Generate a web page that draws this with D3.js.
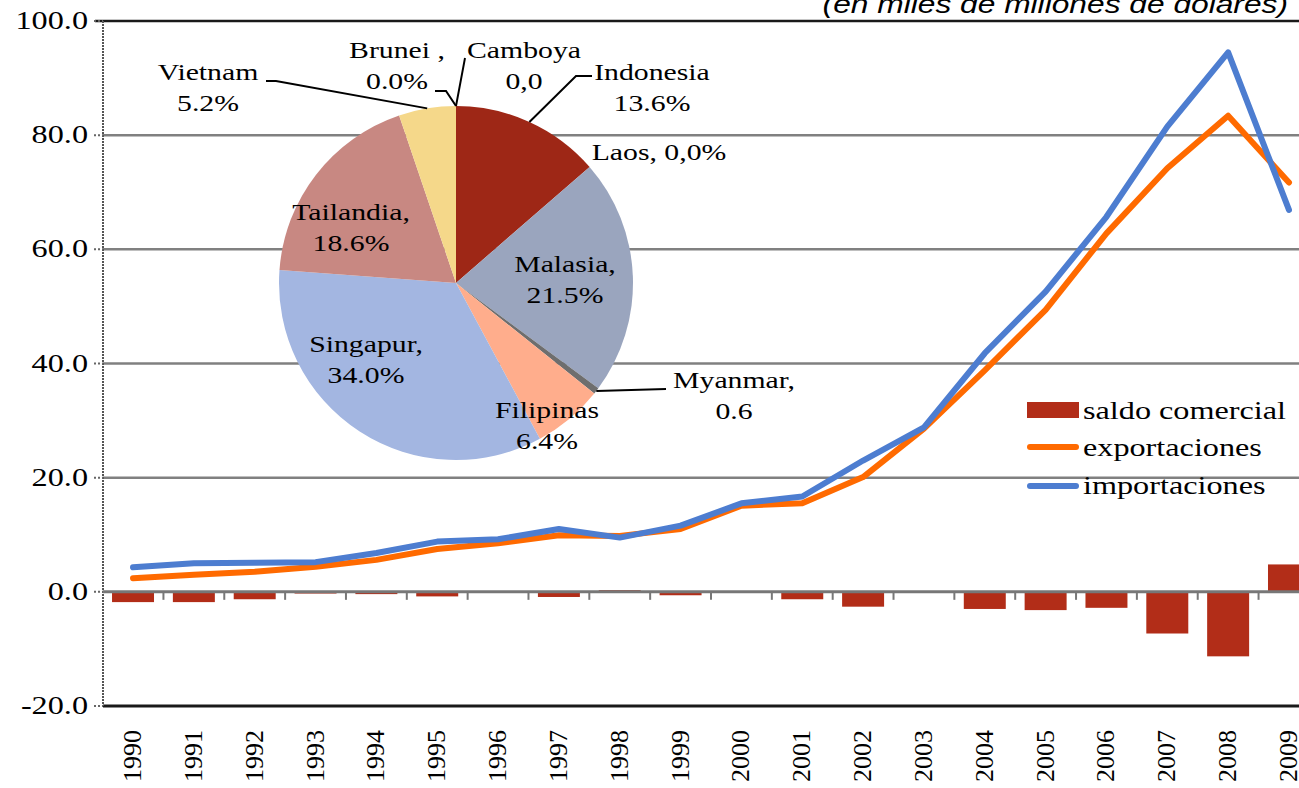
<!DOCTYPE html>
<html><head><meta charset="utf-8">
<script src="https://cdn.jsdelivr.net/npm/d3@7"></script>
<style>
html,body{margin:0;padding:0;background:#fff;overflow:hidden;}
svg{display:block;}
text{font-family:"Liberation Serif","Times New Roman",serif;fill:#000;}
</style></head>
<body>
<svg id="c" width="1299" height="788"></svg>
<script>
// ---- data ----
const years = ["1990","1991","1992","1993","1994","1995","1996","1997","1998","1999","2000","2001","2002","2003","2004","2005","2006","2007","2008","2009"];
const exportaciones = [2.4,3.0,3.5,4.4,5.6,7.5,8.5,9.9,9.8,11.0,15.1,15.5,20.1,28.6,38.8,49.4,62.8,74.2,83.4,71.7];
const importaciones = [4.3,5.0,5.1,5.2,6.8,8.8,9.2,11.0,9.5,11.6,15.5,16.7,23.0,28.8,41.8,52.6,65.7,81.5,94.5,66.9];
const saldoComercial = [-1.8,-1.8,-1.3,-0.3,-0.4,-0.8,-0.1,-0.9,0.3,-0.6,-0.1,-1.3,-2.6,-0.2,-3.0,-3.2,-2.8,-7.3,-11.3,4.8];
const yTicks = [-20,0,20,40,60,80,100];
const yTickLabels = ["-20.0","0.0","20.0","40.0","60.0","80.0","100.0"];
const seriesNames = ["saldo comercial","exportaciones","importaciones"];

const paises = ["Brunei","Camboya","Indonesia","Laos","Malasia","Myanmar","Filipinas","Singapur","Tailandia","Vietnam"];
const participacion = [0,0,13.6,0,21.5,0.6,6.4,34.0,18.6,5.2];
const pieLabels = [["Brunei ,","0.0%"],["Camboya","0,0"],["Indonesia","13.6%"],["Laos, 0,0%"],["Malasia,","21.5%"],["Myanmar,","0.6"],["Filipinas","6.4%"],["Singapur,","34.0%"],["Tailandia,","18.6%"],["Vietnam","5.2%"]];
const pieColors = ["#4F81BD","#C0504D","#9E2716","#8064A2","#9AA5BE","#6E6E6E","#FFAD8C","#A3B6E1","#C88882","#F5D88A"];
const titleText = "(en miles de millones de dólares)";

// ---- layout ----
const SX = 1.24; // horizontal stretch of the original picture
const svg = d3.select("#c");
const plotLeft = 103, plotRight = 1299;
const x = d3.scaleBand().domain(years).range([102.6, 1319.4]).paddingInner(0.31).paddingOuter(0.155);
const y = d3.scaleLinear().domain([-20,100]).range([706,21]);
const step = x.step();

function txt(g, px, py, str, size, anchor){
  return g.append("text").attr("transform",`translate(${px},${py}) scale(${SX},1)`)
    .attr("text-anchor",anchor||"start").style("font-size",size+"px").text(str);
}

// title (cut at top, as in the original)
svg.append("text").attr("transform","translate(1288,13) scale(1.22,1)")
  .attr("text-anchor","end").style("font-family","'Liberation Sans',Arial,sans-serif")
  .style("font-style","italic").style("font-size","26px").text(titleText);

// gridlines
const gridVals = [20,40,60,80];
svg.append("g").selectAll("line").data(gridVals).join("line")
  .attr("x1",plotLeft).attr("x2",plotRight).attr("y1",d=>y(d)).attr("y2",d=>y(d))
  .attr("stroke","#808080").attr("stroke-width",2.5);
svg.append("line").attr("x1",95).attr("x2",plotRight).attr("y1",y(100)).attr("y2",y(100))
  .attr("stroke","#1a1a1a").attr("stroke-width",2.5);
svg.append("line").attr("x1",plotLeft).attr("x2",plotRight).attr("y1",y(-20)).attr("y2",y(-20))
  .attr("stroke","#1a1a1a").attr("stroke-width",3);

// y axis
const yAxis = svg.append("g");
yAxis.append("line").attr("x1",plotLeft).attr("x2",plotLeft).attr("y1",y(100)).attr("y2",y(-20))
  .attr("stroke","#555").attr("stroke-width",2).attr("stroke-dasharray","2,1");
yAxis.selectAll("line.t").data(yTicks).join("line").attr("class","t")
  .attr("x1",94).attr("x2",plotLeft).attr("y1",d=>y(d)).attr("y2",d=>y(d))
  .attr("stroke","#666").attr("stroke-width",2).attr("stroke-dasharray","2,2");
yTicks.forEach((v,i)=>txt(yAxis, 88, y(v)+8, yTickLabels[i], 26, "end"));

// bars
svg.append("g").selectAll("rect").data(years).join("rect")
  .attr("x",d=>x(d)).attr("width",x.bandwidth())
  .attr("y",(d,i)=>y(Math.max(0,saldoComercial[i])))
  .attr("height",(d,i)=>Math.abs(y(saldoComercial[i])-y(0)))
  .attr("fill","#B22D18");

// zero line + category ticks
svg.append("line").attr("x1",plotLeft).attr("x2",plotRight).attr("y1",y(0)).attr("y2",y(0))
  .attr("stroke","#777").attr("stroke-width",3);
svg.append("g").selectAll("line").data(years.slice(1)).join("line")
  .attr("x1",d=>x(d)-x.paddingInner()*step/2).attr("x2",d=>x(d)-x.paddingInner()*step/2)
  .attr("y1",y(0)).attr("y2",y(0)+8).attr("stroke","#777").attr("stroke-width",2);

// x labels (rotated)
svg.append("g").selectAll("text").data(years).join("text")
  .attr("transform",d=>`translate(${x(d)+x.bandwidth()/2+8},782) rotate(-90)`)
  .attr("text-anchor","start").style("font-size","26px").text(d=>d);

// lines
const line = d3.line().x((d,i)=>x(years[i])+x.bandwidth()/2).y(d=>y(d));
svg.append("path").datum(exportaciones).attr("d",line).attr("fill","none")
  .attr("stroke","#FF6A00").attr("stroke-width",6).attr("stroke-linecap","round").attr("stroke-linejoin","round");
svg.append("path").datum(importaciones).attr("d",line).attr("fill","none")
  .attr("stroke","#4D7DD0").attr("stroke-width",6).attr("stroke-linecap","round").attr("stroke-linejoin","round");

// legend
const lg = svg.append("g");
lg.append("rect").attr("x",1027).attr("y",402).attr("width",52).attr("height",16).attr("fill","#B22D18");
lg.append("line").attr("x1",1030).attr("x2",1076).attr("y1",447).attr("y2",447).attr("stroke","#FF6A00").attr("stroke-width",6).attr("stroke-linecap","round");
lg.append("line").attr("x1",1030).attr("x2",1076).attr("y1",486).attr("y2",486).attr("stroke","#4D7DD0").attr("stroke-width",6).attr("stroke-linecap","round");
[419,456,494].forEach((yy,i)=>txt(lg, 1083, yy, seriesNames[i], 26));

// pie
const cx = 456, cy = 283, R = 177;
const pg = svg.append("g").attr("transform",`translate(${cx},${cy})`);
const pieData = d3.pie().sort(null).value(d=>d)(participacion);
const arc = d3.arc().innerRadius(0).outerRadius(R);
pg.selectAll("path").data(pieData).join("path").attr("d",arc).attr("fill",(d,i)=>pieColors[i]);

function edgePoint(d){ const a=(d.startAngle+d.endAngle)/2; return [R*Math.sin(a), -R*Math.cos(a)]; }
// label anchors (relative to pie center)
const labelPos = [[-59,-225],[68,-225],[196,-203],[203,-123],[109,-11],[278,105],[91,135],[-90,69],[-105,-63],[-248,-203]];
pieLabels.forEach((lines,i)=>{
  const t = pg.append("text").attr("transform",`translate(${labelPos[i][0]},${labelPos[i][1]}) scale(${SX},1)`)
    .attr("text-anchor","middle").style("font-size","24px");
  lines.forEach((s,k)=>t.append("tspan").attr("x",0).attr("y",k*31).text(s));
});
// leader lines
const leaders = [
  {i:9, pts:[[-190,-202],[-180,-202]]},
  {i:0, pts:[[-21,-192],[-10,-192]]},
  {i:1, pts:[[9,-225]]},
  {i:2, pts:[[136,-207],[120,-207]]},
  {i:5, pts:[[210,106]]}
];
leaders.forEach(l=>{
  const p = l.pts.concat([edgePoint(pieData[l.i])]);
  pg.append("path").attr("d",d3.line()(p)).attr("fill","none").attr("stroke","#000").attr("stroke-width",2);
});
</script>
</body></html>
